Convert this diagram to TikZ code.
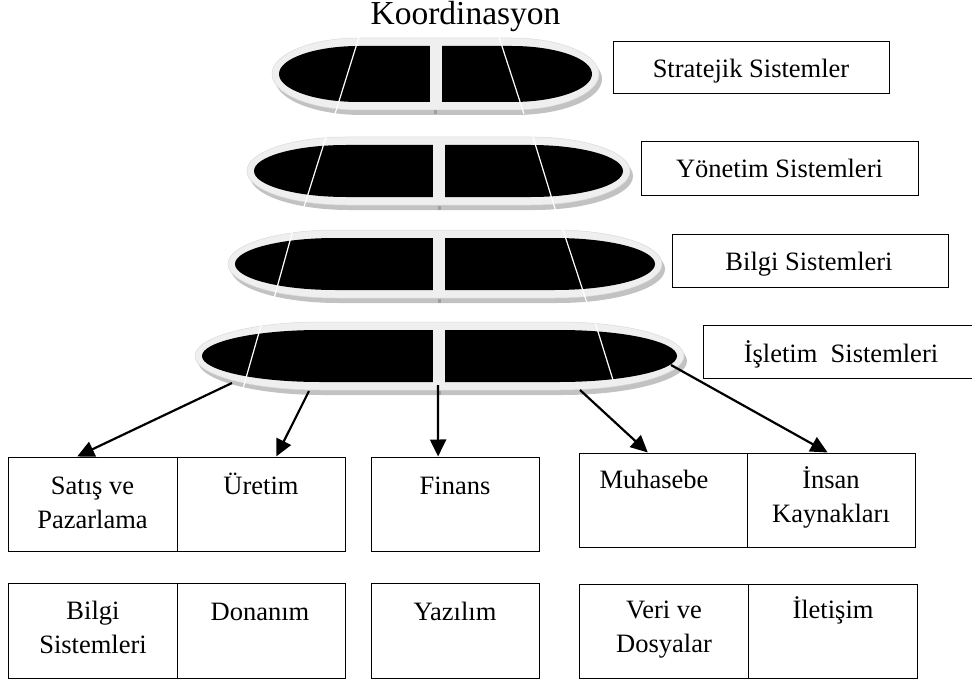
\documentclass[tikz,border=0pt]{standalone}
\usepackage{fontspec}
\setmainfont{Liberation Serif}
\usetikzlibrary{arrows.meta,calc}

\definecolor{rimgray}{HTML}{EFEFEF}
\definecolor{rimedge}{HTML}{DADADA}
\definecolor{shadegray}{HTML}{C2C2C2}

% flat disk outline: style, left, right, top, bottom, end radius
\newcommand\diskfill[6]{%
  \path[#1] ({(#2)+(#6)},{#4}) -- ({(#3)-(#6)},{#4})
    arc[start angle=-90,end angle=90,x radius={#6},y radius={((#5)-(#4))/2}]
    -- ({(#2)+(#6)},{#5})
    arc[start angle=90,end angle=270,x radius={#6},y radius={((#5)-(#4))/2}] -- cycle;}

% one level: left, right, top, bottom, end radius, x of the split
\newcommand\disk[6]{%
  \diskfill{fill=shadegray}{(#1)-4}{(#2)+10}{(#3)-3}{(#4)+13}{(#5)+7}
  \diskfill{fill=rimgray,draw=rimedge,line width=0.5pt}{(#1)-7}{(#2)+7}{(#3)-8}{(#4)+8}{(#5)+7}
  \diskfill{fill=black}{#1}{#2}{#3}{#4}{#5}
  \fill[rimgray] ({(#6)-6},{(#3)-1}) rectangle ({(#6)+6},{(#4)+1});
  \fill[gray!75] ({(#6)-1.5},{(#4)+8.5}) rectangle ({(#6)+1.5},{(#4)+12.5});
}

\tikzset{
  box/.style={draw=black,line width=1pt,inner sep=0pt},
  lbl/.style={font=\fontsize{26.5}{33.5}\selectfont,inner sep=0pt,anchor=base,align=center},
  arr/.style={line width=2.2pt,-{Triangle[length=17pt,width=16pt]}},
  split/.style={draw=white,line width=1.2pt}
}

\begin{document}
\begin{tikzpicture}[x=1pt,y=-1pt]
\useasboundingbox[fill=white] (0,0) rectangle (972,682);

% stacked levels
\disk{279}{592}{46}{102}{80}{435.5}
\draw[split] (359,37) -- (335,114);
\draw[split] (499,37) -- (524,114);

\disk{254}{623}{145}{197}{92}{439}
\draw[split] (326,137) -- (303,210);
\draw[split] (533,137) -- (556,212);

\disk{235}{655}{238}{290}{100}{439}
\draw[split] (293,230) -- (273,302);
\draw[split] (563,230) -- (587,303);

\disk{202}{677}{330}{382}{118}{439}
\draw[split] (262,322) -- (242,392);
\draw[split] (595,322) -- (613,380);

\node[lbl,font=\fontsize{33.5}{40}\selectfont] (koord) at (465.5,25) {Koordinasyon};

% level labels
\node[box,minimum width=276pt,minimum height=52pt] (strat) at (751,68) {};
\node[lbl] (strattxt) at (751,78) {Stratejik Sistemler};
\node[box,minimum width=277pt,minimum height=53pt] (yon) at (779.5,168.5) {};
\node[lbl] (yontxt) at (779.5,177) {Yönetim Sistemleri};
\node[box,minimum width=276pt,minimum height=53pt] (bilgi) at (810,260.5) {};
\node[lbl] (bilgitxt) at (809,270) {Bilgi Sistemleri};
\node[box,minimum width=290pt,minimum height=53pt] (islet) at (848,351.5) {};
\node[lbl] (islettxt) at (841,362) {İşletim\ \ Sistemleri};

% functional areas
\node[box,minimum width=169pt,minimum height=94pt] (sat) at (92.5,504) {};
\node[box,minimum width=168pt,minimum height=94pt] (ure) at (261,504) {};
\node[box,minimum width=168pt,minimum height=94pt] (fin) at (455,504) {};
\node[box,minimum width=168pt,minimum height=94pt] (muh) at (663,500) {};
\node[box,minimum width=168pt,minimum height=94pt] (ins) at (831,500) {};

\node[lbl] (sattxt) at (92.5,528) {Satış ve\\Pazarlama};
\node[lbl] (uretxt) at (261,494) {Üretim};
\node[lbl] (fintxt) at (455,494) {Finans};
\node[lbl] (muhtxt) at (654,488) {Muhasebe};
\node[lbl] (instxt) at (831,522) {İnsan\\Kaynakları};

% resources
\node[box,minimum width=169pt,minimum height=95pt] (bs) at (92.5,630.5) {};
\node[box,minimum width=168pt,minimum height=95pt] (don) at (261,630.5) {};
\node[box,minimum width=168pt,minimum height=95pt] (yaz) at (455,630.5) {};
\node[box,minimum width=169pt,minimum height=94pt] (veri) at (663.5,631) {};
\node[box,minimum width=169pt,minimum height=94pt] (ilet) at (832.5,631) {};

\node[lbl] (bstxt) at (93,653) {Bilgi\\Sistemleri};
\node[lbl] (dontxt) at (260,620) {Donanım};
\node[lbl] (yaztxt) at (455,620) {Yazılım};
\node[lbl] (veritxt) at (664,652) {Veri ve\\Dosyalar};
\node[lbl] (ilettxt) at (833,618) {İletişim};

% connectors from the operational level
\coordinate (o1) at (232,383);
\coordinate (o2) at (309,391);
\coordinate (o3) at (438,385);
\coordinate (o4) at (580,390);
\coordinate (o5) at (671,365);
\draw[arr] (o1) -- ($(sat.north west)!0.41!(sat.north east)$);
\draw[arr] (o2) -- ($(ure.north west)!0.59!(ure.north east)$);
\draw[arr] (o3) -- ($(fin.north west)!0.40!(fin.north east)$);
\draw[arr] (o4) -- ($(muh.north west)!0.41!(muh.north east)$);
\draw[arr] (o5) -- ($(ins.north west)!0.48!(ins.north east)$);
\end{tikzpicture}
\end{document}
